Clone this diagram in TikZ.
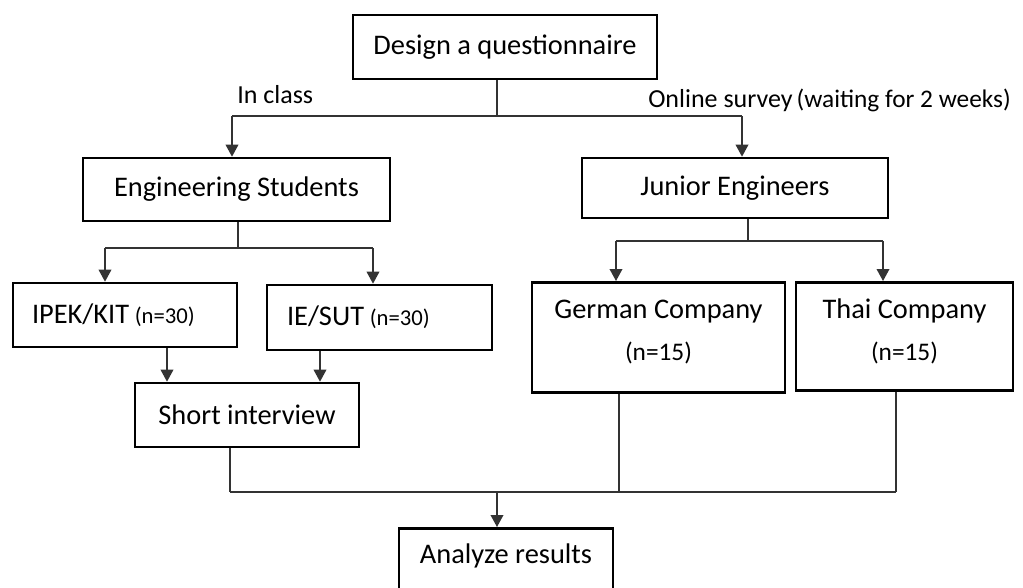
\documentclass[tikz,border=0pt]{standalone}
\usepackage{fontspec}
\setmainfont{Carlito}
\usetikzlibrary{arrows.meta}
\begin{document}
\begin{tikzpicture}[x=0.75pt,y=-0.75pt,
  box/.style={draw=black,line width=2pt,rectangle,inner sep=0pt,font=\fontsize{21.3}{31.5}\selectfont},
  conn/.style={draw=black!80,line width=1.1pt},
  arr/.style={conn,-{Triangle[width=9.5pt,length=9pt]}},
  lbl/.style={inner sep=0pt,font=\fontsize{19.5}{23}\selectfont}]
\useasboundingbox (0,0) rectangle (1023,587);
\clip (0,0) rectangle (1023,587);
\fill[white] (0,0) rectangle (1023,587);

% boxes
\node[box,minimum width=228pt,minimum height=48pt] (design) at (505,47) {Design a questionnaire};
\node[box,minimum width=230.25pt,minimum height=47.25pt] (eng) at (236.5,189.5) {Engineering Students};
\node[box,minimum width=229.5pt,minimum height=45pt] (jun) at (735,188) {Junior Engineers};
\node[box,inner xsep=14.25pt,text width=139.5pt,align=left,minimum height=48pt] (ipek) at (125,315)
  {IPEK/KIT\hspace{0.2em}{\fontsize{17}{20}\selectfont(n=30)}};
\node[box,inner xsep=15pt,text width=138.75pt,align=left,minimum height=48.75pt] (iesut) at (379.5,317.5)
  {IE/SUT\hspace{0.2em}{\fontsize{17}{20}\selectfont(n=30)}};
\node[box,minimum width=168pt,minimum height=48pt] (short) at (247,415) {Short interview};
\node[box,anchor=north] (german) at (658.5,281)
  {\parbox[c][82.5pt][t]{189.75pt}{\centering\rule{0pt}{27pt}German Company\\{\fontsize{19}{31.5}\selectfont(n=15)}}};
\node[box,anchor=north] (thai) at (904.5,281)
  {\parbox[c][81pt][t]{162.75pt}{\centering\rule{0pt}{27pt}Thai Company\\{\fontsize{19}{31.5}\selectfont(n=15)}}};
\node[box,anchor=north] (analyze) at (506,527)
  {\parbox[c][60pt][t]{160.5pt}{\centering\rule{0pt}{26.25pt}Analyze results}};

% labels
\node[lbl,anchor=west] (inclass) at (237,95) {In class};
\node[lbl,anchor=west] (online) at (648,100) {Online survey\hspace{0.15em}{\fontsize{19}{22}\selectfont(waiting for 2 weeks)}};

% connectors: top
\coordinate (a1) at (497,116);
\coordinate (a2) at (232,116);
\coordinate (a3) at (742,116);
\draw[conn] (design.south -| a1) -- (a1);
\draw[conn] (a2) -- (a3);
\draw[arr] (a2) -- (eng.north -| a2);
\draw[arr] (a3) -- (jun.north -| a3);

% engineering students branch
\coordinate (b1) at (238,248);
\coordinate (b2) at (105,248);
\coordinate (b3) at (373,248);
\draw[conn] (eng.south -| b1) -- (b1);
\draw[conn] (b2) -- (b3);
\draw[arr] (b2) -- (ipek.north -| b2);
\draw[arr] (b3) -- (iesut.north -| b3);

\coordinate (c1) at (167,360);
\coordinate (c2) at (320,360);
\draw[arr] (ipek.south -| c1) -- (short.north -| c1);
\draw[arr] (iesut.south -| c2) -- (short.north -| c2);

% junior engineers branch
\coordinate (d1) at (748,241);
\coordinate (d2) at (616,241);
\coordinate (d3) at (883,241);
\draw[conn] (jun.south -| d1) -- (d1);
\draw[conn] (d2) -- (d3);
\draw[arr] (d2) -- (german.north -| d2);
\draw[arr] (d3) -- (thai.north -| d3);

% bottom merge
\coordinate (e1) at (230,492);
\coordinate (e2) at (619,492);
\coordinate (e3) at (896,492);
\coordinate (e4) at (497,492);
\draw[conn] (short.south -| e1) -- (e1);
\draw[conn] (german.south -| e2) -- (e2);
\draw[conn] (thai.south -| e3) -- (e3);
\draw[conn] (e1) -- (e3);
\draw[arr] (e4) -- (analyze.north -| e4);
\end{tikzpicture}
\end{document}
